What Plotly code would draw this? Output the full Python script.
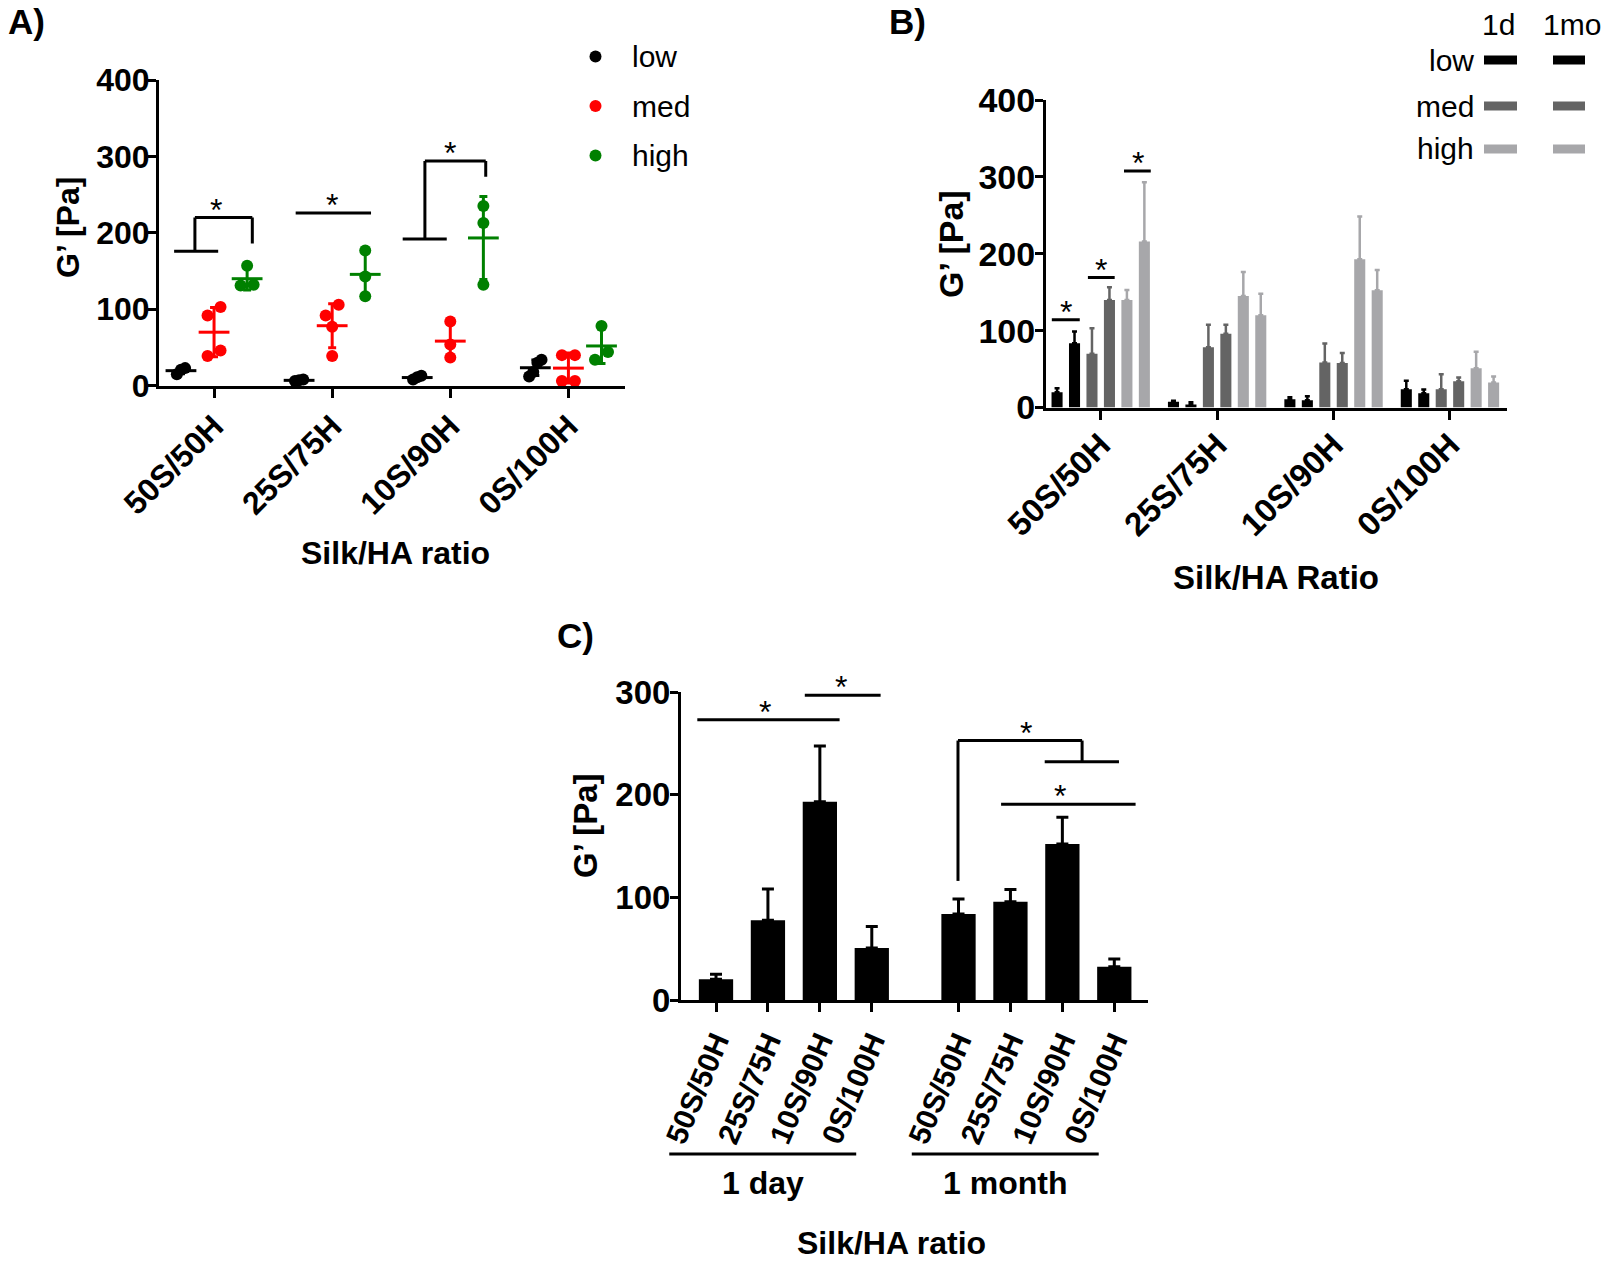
import numpy as np
import plotly.graph_objects as go

# ---------------- data ----------------
RATIOS = ["50S/50H", "25S/75H", "10S/90H", "0S/100H"]
LEVELS = ["low", "med", "high"]

# Panel A: individual G' values [Pa] per ratio (1 day)
a_low = [[23, 15, 21], [8, 6, 7], [13, 8, 11], [30, 34, 12, 18]]
a_med = [[103, 92, 39, 46], [106, 92, 77, 39], [84, 54, 37], [40, 40, 6, 6]]
a_high = [[157, 132, 131], [177, 143, 117], [235, 213, 132], [78, 44, 34]]

# Panel B: mean G' [Pa] and upper SD, per ratio
b_low_1d = [20.0, 7.4, 10.8, 23.8]
b_low_1d_sd = [5.0, 1.3, 2.6, 10.9]
b_low_1mo = [83.6, 3.9, 9.5, 18.6]
b_low_1mo_sd = [15.2, 3.0, 5.2, 4.8]
b_med_1d = [69.8, 78.4, 58.5, 23.8]
b_med_1d_sd = [33.2, 29.1, 24.7, 19.5]
b_med_1mo = [140.0, 95.8, 58.0, 34.2]
b_med_1mo_sd = [16.4, 11.7, 13.0, 4.8]
b_high_1d = [140.0, 145.0, 192.8, 51.0]
b_high_1d_sd = [13.0, 31.4, 55.5, 21.4]
b_high_1mo = [216.0, 120.0, 152.5, 32.5]
b_high_1mo_sd = [77.0, 28.0, 26.5, 7.8]
B_TIMES = ["1d", "1mo"]

# Panel C: mean G' [Pa] and upper SD
C_GROUPS = ["1 day", "1 month"]
c_1day = [20.1, 77.8, 193.0, 50.6]
c_1day_sd = [4.9, 30.2, 54.5, 21.1]
c_1month = [83.7, 95.7, 152.0, 32.4]
c_1month_sd = [14.6, 12.0, 26.0, 7.5]

# ---------------- style / layout ----------------
W, H = 1607, 1264
FONT = "Liberation Sans, Arial, sans-serif"
BLACK, RED, GREEN = "#000000", "#FF0000", "#008000"
DARK, LIGHT = "#646464", "#A7A7AA"
LW = 3

# panel frames in pixels: x0, x1 (axis span), y_bottom, y_top
FRAMES = {
    "A": dict(px=(159, 625), py=(385.7, 80), xr=(-0.466, 3.479), yr=(0, 400)),
    "B": dict(px=(1046, 1507), py=(407.5, 100), xr=(-0.47, 3.49), yr=(0, 400)),
    "C": dict(px=(681, 1148), py=(1000, 692), xr=(-0.674, 8.319), yr=(0, 300)),
}


def xdom(f):
    return [f["px"][0] / W, f["px"][1] / W]


def ydom(f):
    return [1 - f["py"][0] / H, 1 - f["py"][1] / H]


def to_paper_x(f, x):
    d = xdom(f)
    return d[0] + (x - f["xr"][0]) / (f["xr"][1] - f["xr"][0]) * (d[1] - d[0])


def jitter(vals, thr=15):
    """Spread overlapping points sideways (scatter dot-plot style)."""
    n = len(vals)
    order = sorted(range(n), key=lambda i: vals[i])
    clusters, cur = [], [order[0]]
    for i in order[1:]:
        if vals[i] - vals[cur[-1]] < thr:
            cur.append(i)
        else:
            clusters.append(cur)
            cur = [i]
    clusters.append(cur)
    off = [0.0] * n
    for c in clusters:
        k = len(c)
        step = 0.11 if k == 2 else 0.035
        for j, i in enumerate(c):
            off[i] = (j - (k - 1) / 2) * step
    return off


fig = go.Figure()

# ---------------- Panel A ----------------
a_series = [("low", a_low, BLACK, -0.28), ("med", a_med, RED, 0.0), ("high", a_high, GREEN, 0.28)]
for name, groups, col, off in a_series:
    xs, ys = [], []
    for g, vals in enumerate(groups):
        jit = jitter(vals)
        for v, j in zip(vals, jit):
            xs.append(g + off + j)
            ys.append(v)
    fig.add_trace(go.Scatter(x=xs, y=ys, mode="markers", name=name, showlegend=False,
                             marker=dict(color=col, size=12, line=dict(width=0)),
                             cliponaxis=False, xaxis="x", yaxis="y"))
    means = [float(np.mean(v)) for v in groups]
    sds = [float(np.std(v, ddof=1)) for v in groups]
    fig.add_trace(go.Scatter(x=[g + off for g in range(len(groups))], y=means, mode="markers",
                             showlegend=False, cliponaxis=False,
                             marker=dict(symbol="line-ew", size=22, color=col,
                                         line=dict(width=3, color=col)),
                             error_y=dict(type="data", array=sds, color=col, thickness=3, width=4),
                             xaxis="x", yaxis="y"))

# ---------------- Panel B ----------------
b_series = [
    (b_low_1d, b_low_1d_sd, BLACK), (b_low_1mo, b_low_1mo_sd, BLACK),
    (b_med_1d, b_med_1d_sd, DARK), (b_med_1mo, b_med_1mo_sd, DARK),
    (b_high_1d, b_high_1d_sd, LIGHT), (b_high_1mo, b_high_1mo_sd, LIGHT),
]
bw = 0.095
for i, (vals, sd, col) in enumerate(b_series):
    center = -0.375 + i * 0.15
    fig.add_trace(go.Bar(x=list(range(len(RATIOS))), y=vals, offset=center - bw / 2, width=bw,
                         marker=dict(color=col, line=dict(width=0)), showlegend=False,
                         error_y=dict(type="data", symmetric=False, array=sd,
                                      arrayminus=[0] * len(sd), color=col, thickness=2.5, width=2.5),
                         xaxis="x2", yaxis="y2"))

# ---------------- Panel C ----------------
gap = 0.67
c_x, c_y, c_e, c_t = [], [], [], []
for g, (vals, sd) in enumerate([(c_1day, c_1day_sd), (c_1month, c_1month_sd)]):
    for i, (v, e) in enumerate(zip(vals, sd)):
        c_x.append(i + g * (len(RATIOS) + gap))
        c_y.append(v)
        c_e.append(e)
        c_t.append(RATIOS[i])
fig.add_trace(go.Bar(x=c_x, y=c_y, width=0.66, marker=dict(color=BLACK, line=dict(width=0)),
                     showlegend=False,
                     error_y=dict(type="data", symmetric=False, array=c_e, arrayminus=[0] * len(c_e),
                                  color=BLACK, thickness=3, width=6),
                     xaxis="x3", yaxis="y3"))


# ---------------- axes ----------------
def tf(size):
    return dict(family=FONT, size=size, color=BLACK, weight="bold")


def xax(f, tickvals, ticktext, angle, size, standoff):
    return dict(domain=xdom(f), range=list(f["xr"]), tickvals=tickvals, ticktext=ticktext,
                tickangle=angle, ticks="outside", ticklen=9, tickwidth=LW, tickcolor=BLACK,
                showline=True, linewidth=LW, linecolor=BLACK, showgrid=False, zeroline=False,
                tickfont=tf(size), automargin=False, fixedrange=True, ticklabelstandoff=standoff)


def yax(f, tickvals, size, standoff):
    return dict(domain=ydom(f), range=list(f["yr"]), tickvals=tickvals, ticks="outside", ticklen=8,
                tickwidth=LW, tickcolor=BLACK, showline=True, linewidth=LW, linecolor=BLACK,
                showgrid=False, zeroline=False, tickfont=tf(size), automargin=False, fixedrange=True,
                ticklabelstandoff=standoff)


fA, fB, fC = FRAMES["A"], FRAMES["B"], FRAMES["C"]
layout = dict(
    width=W, height=H, margin=dict(l=0, r=0, t=0, b=0), paper_bgcolor="white", plot_bgcolor="white",
    barmode="overlay", showlegend=False,
    xaxis=dict(xax(fA, [0, 1, 2, 3], RATIOS, -45, 32, -3), anchor="y"),
    yaxis=dict(yax(fA, [0, 100, 200, 300, 400], 32, -8), anchor="x"),
    xaxis2=dict(xax(fB, [0, 1, 2, 3], RATIOS, -45, 33, -7), anchor="y2"),
    yaxis2=dict(yax(fB, [0, 100, 200, 300, 400], 34, -7), anchor="x2"),
    xaxis3=dict(xax(fC, c_x, c_t, -67, 30, 0), anchor="y3"),
    yaxis3=dict(yax(fC, [0, 100, 200, 300], 33, -7), anchor="x3"),
)
fig.update_layout(**layout)

shapes, annos = [], []


def hline(ax, x0, x1, y):
    shapes.append(dict(type="line", xref=ax[0], yref=ax[1], x0=x0, x1=x1, y0=y, y1=y,
                       line=dict(color=BLACK, width=LW)))


def vline(ax, x, y0, y1):
    shapes.append(dict(type="line", xref=ax[0], yref=ax[1], x0=x, x1=x, y0=y0, y1=y1,
                       line=dict(color=BLACK, width=LW)))


def star(ax, x, y):
    annos.append(dict(xref=ax[0], yref=ax[1], x=x, y=y, text="*", showarrow=False,
                      yanchor="middle", xanchor="center", yshift=8,
                      font=dict(family=FONT, size=32, color=BLACK)))


A, B, C = ("x", "y"), ("x2", "y2"), ("x3", "y3")
# Panel A significance
hline(A, -0.338, 0.035, 176); vline(A, -0.162, 176, 220); hline(A, -0.162, 0.324, 220)
vline(A, 0.324, 220, 186); star(A, 0.015, 220)
hline(A, 0.691, 1.329, 226); star(A, 1.0, 226)
hline(A, 1.597, 1.97, 192); vline(A, 1.785, 192, 294); hline(A, 1.785, 2.30, 294)
vline(A, 2.30, 294, 273.5); star(A, 1.997, 294)
# Panel B significance
hline(B, -0.42, -0.18, 114); star(B, -0.30, 114)
hline(B, -0.11, 0.12, 169); star(B, 0.005, 169)
hline(B, 0.20, 0.43, 307.7); star(B, 0.32, 307.7)
# Panel C significance
hline(C, -0.36, 2.38, 273); star(C, 0.94, 273)
hline(C, 1.71, 3.17, 296.8); star(C, 2.4, 296.8)
vline(C, 4.66, 116, 252.7); hline(C, 4.66, 7.05, 252.7); vline(C, 7.05, 252.7, 232)
hline(C, 6.33, 7.76, 232); star(C, 5.96, 252.7)
hline(C, 5.49, 8.08, 190.7); star(C, 6.62, 190.7)


def text(x, y, s, size=32, bold=True, angle=0, xanchor="center", yanchor="middle"):
    annos.append(dict(xref="paper", yref="paper", x=x / W, y=1 - y / H, text=s, showarrow=False,
                      textangle=angle, xanchor=xanchor, yanchor=yanchor,
                      font=dict(family=FONT, size=size, color=BLACK,
                                weight="bold" if bold else "normal")))


# panel letters
text(26, 22, "A)", size=35)
text(907, 22, "B)", size=35)
text(575, 635, "C)", size=35)
# axis titles
text(68, 228, "G’ [Pa]", size=32, angle=-90)
text(395, 553, "Silk/HA ratio", size=32)
text(951, 244, "G’ [Pa]", size=34, angle=-90)
text(1276, 577, "Silk/HA Ratio", size=33)
text(585, 826, "G’ [Pa]", size=33, angle=-90)
text(891, 1243, "Silk/HA ratio", size=32)

# Panel A legend
for (name, _, col, _), yy in zip(a_series, [56.5, 106, 155.5]):
    shapes.append(dict(type="circle", xref="paper", yref="paper",
                       x0=(595.5 - 6) / W, x1=(595.5 + 6) / W, y0=1 - (yy + 6) / H, y1=1 - (yy - 6) / H,
                       fillcolor=col, line=dict(width=0)))
    text(630, yy, name, size=30, bold=False, xanchor="left")

# Panel B legend
text(1498, 25, B_TIMES[0], size=30, bold=False)
text(1572, 25, B_TIMES[1], size=30, bold=False)
for name, col, yy in zip(LEVELS, [BLACK, DARK, LIGHT], [60, 106, 149]):
    text(1476, yy, name, size=30, bold=False, xanchor="right")
    for x0, x1 in [(1484, 1517), (1553, 1585)]:
        shapes.append(dict(type="rect", xref="paper", yref="paper", x0=x0 / W, x1=x1 / W,
                           y0=1 - (yy + 4.5) / H, y1=1 - (yy - 4.5) / H, fillcolor=col, line=dict(width=0)))

# Panel C group labels
for g, name in enumerate(C_GROUPS):
    first = g * (len(RATIOS) + gap)
    last = first + len(RATIOS) - 1
    x0 = to_paper_x(fC, first - 0.9)
    x1 = to_paper_x(fC, last - 0.3)
    shapes.append(dict(type="line", xref="paper", yref="paper", x0=x0, x1=x1,
                       y0=1 - 1154 / H, y1=1 - 1154 / H, line=dict(color=BLACK, width=LW)))
    annos.append(dict(xref="paper", yref="paper", x=(x0 + x1) / 2, y=1 - 1183 / H, text=name,
                      showarrow=False, xanchor="center", yanchor="middle",
                      font=dict(family=FONT, size=32, color=BLACK, weight="bold")))

fig.update_layout(shapes=shapes, annotations=annos)

fig.write_html("out.html", config={"displayModeBar": False},
               post_script="document.body.style.margin='0';")
